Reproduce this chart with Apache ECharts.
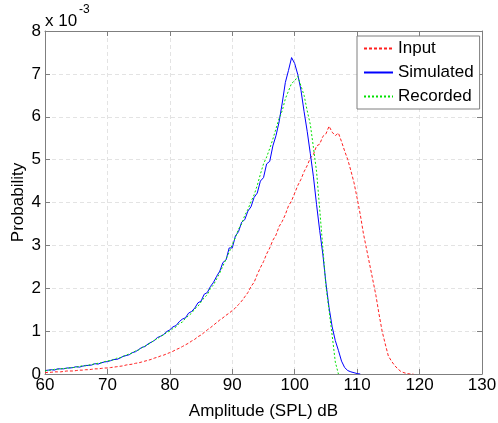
<!DOCTYPE html>
<html>
<head>
<meta charset="utf-8">
<script src="https://cdn.jsdelivr.net/npm/echarts@6/dist/echarts.min.js"></script>
<style>
html,body{margin:0;padding:0;background:#fff;}
#chart{width:498px;height:423px;}
</style>
</head>
<body>
<div id="chart"></div>
<script>
// Amplitude (SPL) dB, 0.5 dB bins
const amplitude = [60,60.5,61,61.5,62,62.5,63,63.5,64,64.5,65,65.5,66,66.5,67,67.5,68,68.5,69,69.5,
70,70.5,71,71.5,72,72.5,73,73.5,74,74.5,75,75.5,76,76.5,77,77.5,78,78.5,79,79.5,
80,80.5,81,81.5,82,82.5,83,83.5,84,84.5,85,85.5,86,86.5,87,87.5,88,88.5,89,89.5,
90,90.5,91,91.5,92,92.5,93,93.5,94,94.5,95,95.5,96,96.5,97,97.5,98,98.5,99,99.5,
100,100.5,101,101.5,102,102.5,103,103.5,104,104.5,105,105.5,106,106.5,107,107.5,108,108.5,109,109.5,
110,110.5,111,111.5,112,112.5,113,113.5,114,114.5,115,115.5,116,116.5,117,117.5,118,118.5,119];

// Probability values in units of 1e-3
const inputProb = [0.03,0.04,0.04,0.05,0.05,0.05,0.06,0.07,0.07,0.07,0.08,0.09,0.09,0.10,0.10,0.11,0.12,0.12,0.13,0.14,
0.14,0.15,0.16,0.17,0.18,0.19,0.21,0.22,0.23,0.25,0.26,0.28,0.30,0.32,0.34,0.37,0.39,0.42,0.44,0.47,
0.50,0.53,0.57,0.60,0.64,0.68,0.72,0.77,0.81,0.87,0.91,0.97,1.03,1.08,1.14,1.20,1.26,1.31,1.37,1.42,
1.48,1.54,1.62,1.70,1.80,1.90,2.04,2.14,2.32,2.48,2.62,2.80,2.94,3.12,3.24,3.44,3.56,3.72,3.92,4.04,
4.22,4.40,4.54,4.72,4.86,5.04,5.12,5.32,5.36,5.54,5.60,5.78,5.64,5.56,5.62,5.42,5.20,5.00,4.74,4.46,
4.10,3.72,3.28,2.92,2.56,2.20,1.84,1.40,1.00,0.70,0.42,0.30,0.20,0.12,0.06,0.03,0.01,0,0];

const simulatedProb = [0.08,0.09,0.10,0.09,0.12,0.12,0.12,0.14,0.14,0.15,0.17,0.16,0.18,0.20,0.20,0.21,0.24,0.23,0.26,0.28,
0.29,0.31,0.34,0.34,0.37,0.41,0.43,0.45,0.50,0.52,0.57,0.62,0.64,0.70,0.74,0.78,0.85,0.88,0.92,0.99,
1.03,1.10,1.13,1.22,1.28,1.31,1.42,1.46,1.54,1.66,1.70,1.86,1.90,2.04,2.14,2.28,2.40,2.60,2.66,2.94,
2.94,3.22,3.32,3.54,3.60,3.80,3.90,4.12,4.22,4.50,4.58,4.90,4.96,5.32,5.56,5.88,6.32,6.80,7.08,7.38,
7.24,6.98,6.62,6.12,5.66,5.14,4.60,3.95,3.35,2.80,2.12,1.55,1.10,0.78,0.55,0.30,0.15,0.08,0.05,0.03,
0.01,0];

const recordedProb = [0.07,0.09,0.09,0.11,0.11,0.12,0.13,0.13,0.15,0.15,0.16,0.18,0.19,0.19,0.21,0.22,0.24,0.25,0.26,0.29,
0.30,0.32,0.33,0.37,0.38,0.41,0.44,0.47,0.49,0.54,0.56,0.61,0.65,0.69,0.73,0.79,0.82,0.88,0.91,0.97,
1.00,1.06,1.10,1.18,1.21,1.30,1.36,1.42,1.52,1.58,1.68,1.78,1.85,2.00,2.08,2.22,2.36,2.52,2.68,2.84,
3.02,3.18,3.38,3.50,3.70,3.84,4.02,4.18,4.40,4.66,4.90,5.06,5.26,5.48,5.72,5.96,6.14,6.42,6.60,6.78,
6.84,6.94,6.72,6.50,6.14,5.82,5.28,4.72,3.85,2.95,2.05,1.48,0.90,0.28,0];

const xTicks = [60,70,80,90,100,110,120,130];
const yTicks = [0,1,2,3,4,5,6,7,8];
const seriesNames = ['Input','Simulated','Recorded'];

const FONT = "'Liberation Sans', Arial, Helvetica, sans-serif";
const AX = '#7f7f7f';

function pairs(vals){ return vals.map((v,i)=>[amplitude[i], v]); }

const chart = echarts.init(document.getElementById('chart'), null, {renderer:'canvas'});
const gridLine = {show:true, lineStyle:{color:'#e3e3e3', width:1, type:[4,3]}};
chart.setOption({
  animation:false,
  backgroundColor:'#fff',
  textStyle:{fontFamily:FONT},
  grid:{left:45, right:16, top:31, bottom:49, containLabel:false, outerBoundsMode:'none'},
  xAxis:[{
    type:'value', min:xTicks[0], max:xTicks[xTicks.length-1], interval:10,
    name:'Amplitude (SPL) dB', nameLocation:'middle', nameGap:29, nameMoveOverlap:false,
    nameTextStyle:{fontSize:17, color:'#000', fontFamily:FONT},
    axisLine:{show:true, onZero:false, lineStyle:{color:AX, width:1}},
    axisTick:{show:true, inside:true, length:5, lineStyle:{color:AX}},
    axisLabel:{fontSize:17, color:'#000', margin:3, fontFamily:FONT},
    splitLine:gridLine
  },{
    type:'value', position:'top', min:xTicks[0], max:xTicks[xTicks.length-1], interval:10,
    axisLine:{show:true, onZero:false, lineStyle:{color:AX, width:1}},
    axisTick:{show:true, inside:true, length:5, lineStyle:{color:AX}},
    axisLabel:{show:false}, splitLine:{show:false}
  }],
  yAxis:[{
    type:'value', min:yTicks[0], max:yTicks[yTicks.length-1], interval:1,
    name:'Probability', nameLocation:'middle', nameGap:18, nameMoveOverlap:false,
    nameTextStyle:{fontSize:17, color:'#000', fontFamily:FONT},
    axisLine:{show:true, onZero:false, lineStyle:{color:AX, width:1}},
    axisTick:{show:true, inside:true, length:5, lineStyle:{color:AX}},
    axisLabel:{fontSize:17, color:'#000', margin:4, fontFamily:FONT},
    splitLine:gridLine
  },{
    type:'value', position:'right', min:yTicks[0], max:yTicks[yTicks.length-1], interval:1,
    axisLine:{show:true, onZero:false, lineStyle:{color:AX, width:1}},
    axisTick:{show:true, inside:true, length:5, lineStyle:{color:AX}},
    axisLabel:{show:false}, splitLine:{show:false}
  }],
  legend:{
    orient:'vertical', left:357, top:36,
    padding:[4,6,4,6], itemGap:7, itemWidth:29, itemHeight:14,
    borderColor:AX, borderWidth:1, backgroundColor:'#fff',
    itemStyle:{opacity:0, color:'transparent', borderColor:'transparent'},
    textStyle:{fontSize:17, lineHeight:16, color:'#000', fontFamily:FONT},
    data:seriesNames
  },
  graphic:[
    {type:'text', left:45, top:13, style:{text:'x 10', fontSize:17, fill:'#000', fontFamily:FONT}},
    {type:'text', left:79, top:4, style:{text:'-3', fontSize:12, fill:'#000', fontFamily:FONT}}
  ],
  series:[
    {name:seriesNames[0], type:'line', data:pairs(inputProb), showSymbol:false, symbol:'none',
     lineStyle:{color:'#ff2020', width:1, type:[3,2]}, itemStyle:{color:'#ff2020'}},
    {name:seriesNames[1], type:'line', data:pairs(simulatedProb), showSymbol:false, symbol:'none',
     lineStyle:{color:'#0000ff', width:1}, itemStyle:{color:'#0000ff'}},
    {name:seriesNames[2], type:'line', data:pairs(recordedProb), showSymbol:false, symbol:'none',
     lineStyle:{color:'#00e000', width:1, type:[2,2]}, itemStyle:{color:'#00e000'}}
  ]
});
</script>
</body>
</html>
